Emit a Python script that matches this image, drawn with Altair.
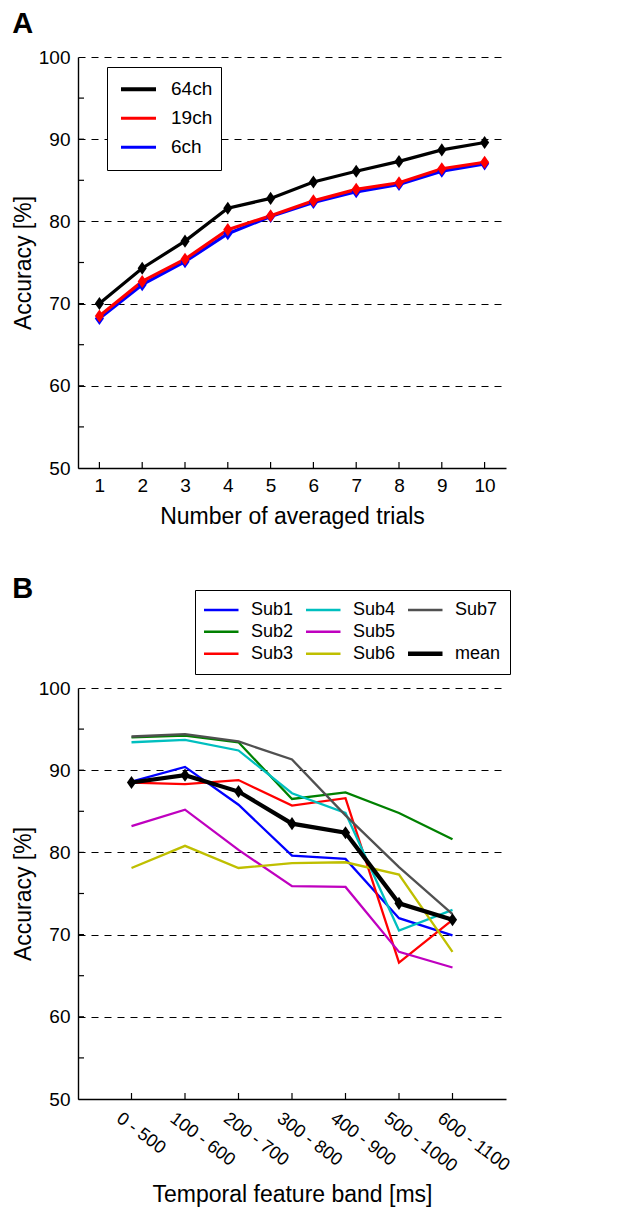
import altair as alt
import pandas as pd

# ---------------- Panel A data ----------------
trials = [1, 2, 3, 4, 5, 6, 7, 8, 9, 10]
acc_64ch = [70.0, 74.3, 77.6, 81.6, 82.8, 84.8, 86.1, 87.3, 88.7, 89.6]
acc_19ch = [68.5, 72.7, 75.4, 79.0, 80.7, 82.5, 83.9, 84.7, 86.4, 87.2]
acc_6ch = [68.2, 72.3, 75.1, 78.5, 80.6, 82.3, 83.6, 84.5, 86.1, 87.0]
channel_names = ["64ch", "19ch", "6ch"]
channel_colors = ["#000000", "#ff0000", "#0000ff"]

# ---------------- Panel B data ----------------
bands = ["0 - 500", "100 - 600", "200 - 700", "300 - 800", "400 - 900", "500 - 1000", "600 - 1100"]
sub1 = [88.6, 90.4, 85.8, 79.6, 79.2, 72.0, 69.9]
sub2 = [94.0, 94.2, 93.4, 86.5, 87.3, 84.8, 81.6]
sub3 = [88.5, 88.3, 88.8, 85.7, 86.6, 66.6, 71.8]
sub4 = [93.4, 93.7, 92.4, 87.2, 84.8, 70.5, 73.0]
sub5 = [83.2, 85.2, 80.3, 75.9, 75.8, 67.9, 66.0]
sub6 = [78.1, 80.8, 78.1, 78.7, 78.8, 77.3, 67.9]
sub7 = [94.1, 94.4, 93.5, 91.3, 84.5, 78.2, 72.5]
mean_acc = [88.5, 89.4, 87.4, 83.5, 82.4, 73.8, 71.8]

# legend slots (filled column by column; the blank slot keeps the 3x3 layout)
legend_order = ["Sub1", "Sub2", "Sub3", "Sub4", "Sub5", "Sub6", "Sub7", " ", "mean"]
legend_colors = ["#0000ff", "#008000", "#ff0000", "#00bfbf", "#bf00bf", "#bfbf00", "#505050", "transparent", "#000000"]

y_labels = [50, 60, 70, 80, 90, 100]
minor_ticks = [55, 60, 65, 70, 75, 80, 85, 90, 95]

FONT = "Liberation Sans"
DIAMOND = "M0,-1L0.7,0L0,1L-0.7,0Z"
W, H = 428, 411

# ---------- build tables ----------
rows = []
for name, vals in [("6ch", acc_6ch), ("19ch", acc_19ch), ("64ch", acc_64ch)]:
    for t, v in zip(trials, vals):
        rows.append({"trials": t, "acc": v, "series": name})
df_a = pd.DataFrame(rows)

rows = []
for name, vals in [("Sub1", sub1), ("Sub2", sub2), ("Sub3", sub3), ("Sub4", sub4),
                   ("Sub5", sub5), ("Sub6", sub6), ("Sub7", sub7), ("mean", mean_acc)]:
    for b, v in zip(bands, vals):
        rows.append({"band": b, "acc": v, "series": name})
df_b = pd.DataFrame(rows)
df_b_subs = df_b[df_b.series != "mean"]
df_b_mean = df_b[df_b.series == "mean"]

y_scale = alt.Scale(domain=[50, 100], nice=False, zero=False)


def y_axis():
    return alt.Axis(values=y_labels, ticks=False, grid=True, gridDash=[7, 6], gridColor="black",
                    gridWidth=1.1, gridOpacity=1, labelPadding=8, labelFontSize=19,
                    title="Accuracy [%]", titleFontSize=23, titlePadding=3)


# ---------------- Panel A ----------------
xa_scale = alt.Scale(domain=[0.5, 10.5], nice=False, zero=False)
xa = alt.X("trials:Q", scale=xa_scale,
           axis=alt.Axis(values=trials, ticks=False, grid=False, labelPadding=8, labelFontSize=19,
                         title="Number of averaged trials", titleFontSize=23, titlePadding=10))
ya = alt.Y("acc:Q", scale=y_scale, axis=y_axis())

ch_scale = alt.Scale(domain=channel_names, range=channel_colors)

lines_a = alt.Chart(df_a).mark_line(strokeWidth=3.2).encode(
    x=xa, y=ya,
    color=alt.Color("series:N", scale=ch_scale, sort=None,
                    legend=alt.Legend(title=None, orient="none", legendX=29, legendY=10,
                                      strokeColor="black", fillColor="white", padding=8,
                                      symbolType="stroke", symbolSize=1225,
                                      symbolStrokeWidth=alt.ExprRef(expr="datum.value === '64ch' ? 4 : 3"),
                                      symbolOffset=14, clipHeight=28.5,
                                      labelFontSize=19, labelFont=FONT, rowPadding=0,
                                      labelOffset=23)),
    detail="series:N",
)
points_a = alt.Chart(df_a).mark_point(shape=DIAMOND, filled=True, size=170, opacity=1).encode(
    x=xa, y=ya,
    fill=alt.Fill("series:N", scale=ch_scale, legend=None),
)
yticks_a = alt.Chart(pd.DataFrame({"acc": minor_ticks})).mark_rule(color="black", strokeWidth=1.2).encode(
    y=alt.Y("acc:Q", scale=y_scale), x=alt.value(0), x2=alt.value(6))
xticks_a = alt.Chart(pd.DataFrame({"trials": trials})).mark_rule(color="black", strokeWidth=1.2).encode(
    x=alt.X("trials:Q", scale=xa_scale), y=alt.value(H), y2=alt.value(H - 6))

chart_a = alt.layer(yticks_a, xticks_a, lines_a, points_a).properties(
    width=W, height=H,
    title=alt.TitleParams("A", anchor="start", frame="bounds", fontSize=29, fontWeight="bold",
                          font=FONT, offset=9))

# ---------------- Panel B ----------------
xb_scale = alt.Scale(type="point", domain=bands, padding=1)
xb = alt.X("band:N", scale=xb_scale, sort=bands,
           axis=alt.Axis(ticks=False, grid=False, labelAngle=37, labelAlign="left", labelBaseline="top",
                         labelPadding=10, labelOffset=-8, labelFontSize=18,
                         title="Temporal feature band [ms]", titleFontSize=23, titlePadding=8))
yb = alt.Y("acc:Q", scale=y_scale, axis=y_axis())

sub_color = alt.Scale(domain=legend_order, range=legend_colors)
leg_b = alt.Legend(title=None, orient="none", legendX=117, legendY=-98, columns=3,
                   strokeColor="black", fillColor="white", padding=9,
                   symbolType="stroke", symbolSize=1225,
                   symbolStrokeWidth=alt.ExprRef(expr="datum.value === 'mean' ? 4.5 : 2.5"),
                   symbolOffset=8, clipHeight=21.5, labelFontSize=18, labelFont=FONT,
                   rowPadding=0, columnPadding=12, labelOffset=21)

lines_b = alt.Chart(df_b_subs).mark_line(strokeWidth=2.3).encode(
    x=xb, y=yb,
    color=alt.Color("series:N", scale=sub_color, legend=leg_b),
    detail="series:N",
)
mean_line_b = alt.Chart(df_b_mean).mark_line(strokeWidth=4.2).encode(
    x=xb, y=yb,
    color=alt.Color("series:N", scale=sub_color, legend=leg_b),
)
points_b = alt.Chart(df_b_mean).mark_point(shape=DIAMOND, filled=True, size=170, opacity=1,
                                           color="black").encode(x=xb, y=yb)
yticks_b = alt.Chart(pd.DataFrame({"acc": minor_ticks})).mark_rule(color="black", strokeWidth=1.2).encode(
    y=alt.Y("acc:Q", scale=y_scale), x=alt.value(0), x2=alt.value(6))
xticks_b = alt.Chart(pd.DataFrame({"band": bands})).mark_rule(color="black", strokeWidth=1.2).encode(
    x=alt.X("band:N", scale=xb_scale, sort=bands), y=alt.value(H), y2=alt.value(H - 6))

chart_b = alt.layer(yticks_b, xticks_b, lines_b, mean_line_b, points_b).properties(
    width=W, height=H,
    title=alt.TitleParams("B", anchor="start", frame="bounds", fontSize=29, fontWeight="bold",
                          font=FONT, offset=-14))

chart = alt.vconcat(chart_a, chart_b, spacing=46).resolve_scale(
    color="independent", fill="independent"
).resolve_legend(color="independent", fill="independent").properties(
    padding={"left": 4, "top": 2, "right": 0, "bottom": 0}
).configure_view(
    stroke=None
).configure_axis(
    labelFont=FONT, titleFont=FONT, labelColor="black", titleColor="black",
    titleFontWeight="normal", domainColor="black", domainWidth=1.4
).configure_legend(labelColor="black")

chart.save("out.html", embed_options={"renderer": "svg", "actions": False})
